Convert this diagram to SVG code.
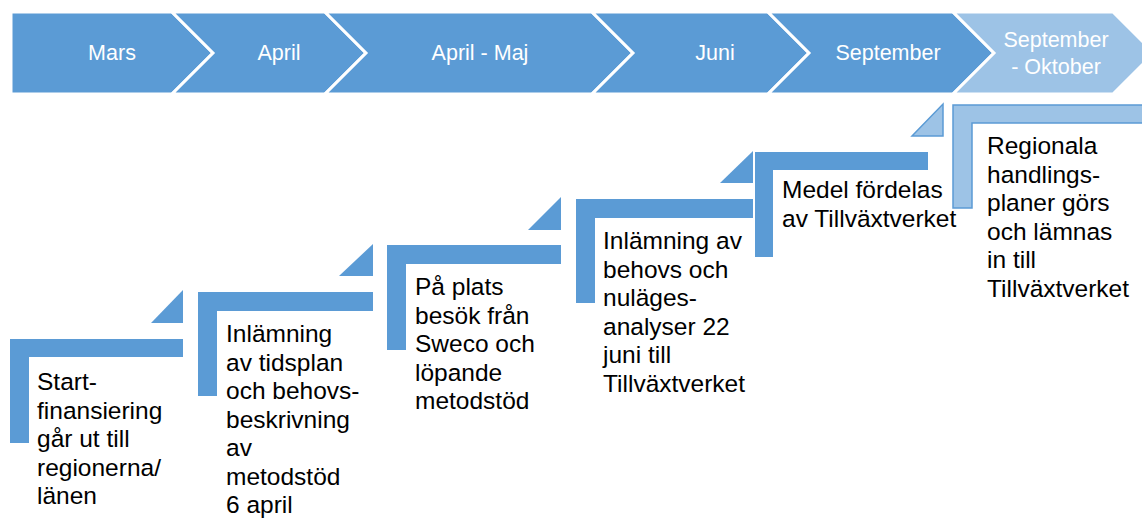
<svg xmlns="http://www.w3.org/2000/svg" width="1142" height="519" viewBox="0 0 1142 519">
  <style>
    .chev { fill: #5B9BD5; stroke: #FFFFFF; stroke-width: 3; stroke-linejoin: miter; }
    .chev.light { fill: #9DC3E6; }
    .ttl { font-family: "Liberation Sans", Arial, sans-serif; font-size: 21.5px; fill: #FFFFFF; text-anchor: middle; }
    .step { fill: #5B9BD5; stroke: none; }
    .step.light { fill: #9DC3E6; stroke: #5B9BD5; stroke-width: 1.5; }
    .txt { font-family: "Liberation Sans", Arial, sans-serif; font-size: 24.5px; fill: #000000; }
  </style>
  <rect width="1142" height="519" fill="#FFFFFF"/>

  <g id="timeline">
    <g id="chev-mars">
      <polygon class="chev" points="11,12 172,12 213,53 172,94 11,94"/>
      <text class="ttl" x="112" y="60">Mars</text>
    </g>
    <g id="chev-april">
      <polygon class="chev" points="172,12 325,12 366,53 325,94 172,94 213,53"/>
      <text class="ttl" x="279" y="60">April</text>
    </g>
    <g id="chev-april-maj">
      <polygon class="chev" points="325,12 592,12 633,53 592,94 325,94 366,53"/>
      <text class="ttl" x="480" y="60">April - Maj</text>
    </g>
    <g id="chev-juni">
      <polygon class="chev" points="592,12 768,12 809,53 768,94 592,94 633,53"/>
      <text class="ttl" x="715" y="60">Juni</text>
    </g>
    <g id="chev-september">
      <polygon class="chev" points="768,12 953,12 994,53 953,94 768,94 809,53"/>
      <text class="ttl" x="888" y="60">September</text>
    </g>
    <g id="chev-sep-okt">
      <polygon class="chev light" points="953,12 1113,12 1154,53 1113,94 953,94 994,53"/>
      <text class="ttl" x="1056" y="46.5">September</text>
      <text class="ttl" x="1056" y="73.5">- Oktober</text>
    </g>
  </g>

  <g id="connectors"></g>

  <g id="step-1">
    <path class="step" d="M10,339 H183 V357 H29 V443 H10 Z"/>
    <polygon class="step" points="151,323 183,290 183,323"/>
    <text class="txt" x="37">
      <tspan x="37" y="390">Start-</tspan>
      <tspan x="37" y="418.5">finansiering</tspan>
      <tspan x="37" y="447">går ut till</tspan>
      <tspan x="37" y="475.5">regionerna/</tspan>
      <tspan x="37" y="504">länen</tspan>
    </text>
  </g>

  <g id="step-2">
    <path class="step" d="M198,292 H373 V311 H217 V396 H198 Z"/>
    <polygon class="step" points="339,276 373,244 373,276"/>
    <text class="txt" x="226">
      <tspan x="226" y="342">Inlämning</tspan>
      <tspan x="226" y="370.5">av tidsplan</tspan>
      <tspan x="226" y="399">och behovs-</tspan>
      <tspan x="226" y="427.5">beskrivning</tspan>
      <tspan x="226" y="456">av</tspan>
      <tspan x="226" y="484.5">metodstöd</tspan>
      <tspan x="226" y="513">6 april</tspan>
    </text>
  </g>

  <g id="step-3">
    <path class="step" d="M387,245 H561 V264 H406 V350 H387 Z"/>
    <polygon class="step" points="528,230 561,197 561,230"/>
    <text class="txt" x="415">
      <tspan x="415" y="295">På plats</tspan>
      <tspan x="415" y="323.5">besök från</tspan>
      <tspan x="415" y="352">Sweco och</tspan>
      <tspan x="415" y="380.5">löpande</tspan>
      <tspan x="415" y="409">metodstöd</tspan>
    </text>
  </g>

  <g id="step-4">
    <path class="step" d="M576,199 H753 V218 H595 V303 H576 Z"/>
    <polygon class="step" points="720,183 753,151 753,183"/>
    <text class="txt" x="603">
      <tspan x="603" y="249">Inlämning av</tspan>
      <tspan x="603" y="277.5">behovs och</tspan>
      <tspan x="603" y="306">nuläges-</tspan>
      <tspan x="603" y="334.5">analyser 22</tspan>
      <tspan x="603" y="363">juni till</tspan>
      <tspan x="603" y="391.5">Tillväxtverket</tspan>
    </text>
  </g>

  <g id="step-5">
    <path class="step" d="M755,152 H928 V170 H773 V257 H755 Z"/>
    <polygon class="step light" points="912,136 943,104 943,136"/>
    <text class="txt" x="782">
      <tspan x="782" y="198">Medel fördelas</tspan>
      <tspan x="782" y="226.5">av Tillväxtverket</tspan>
    </text>
  </g>

  <g id="step-6">
    <path class="step light" d="M953,105 H1150 V123 H972 V208 H953 Z"/>
    <text class="txt" x="987">
      <tspan x="987" y="154">Regionala</tspan>
      <tspan x="987" y="182.5">handlings-</tspan>
      <tspan x="987" y="211">planer görs</tspan>
      <tspan x="987" y="239.5">och lämnas</tspan>
      <tspan x="987" y="268">in till</tspan>
      <tspan x="987" y="296.5">Tillväxtverket</tspan>
    </text>
  </g>
</svg>
